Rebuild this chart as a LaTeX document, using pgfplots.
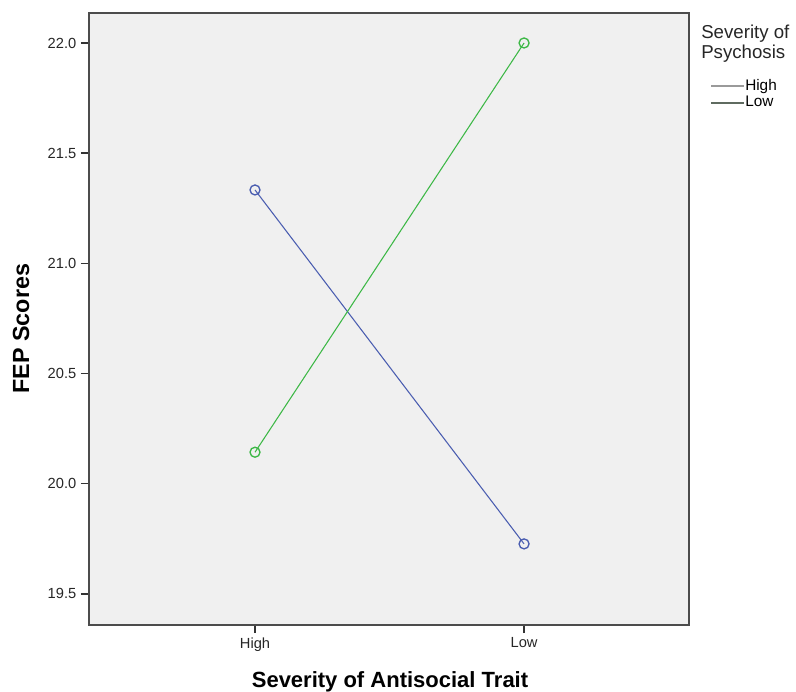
\documentclass[border=0pt]{standalone}
\usepackage{fontspec}
\setmainfont{Liberation Sans}
\usepackage{pgfplots}
\pgfplotsset{compat=1.18}
\definecolor{bgc}{HTML}{F0F0F0}
\definecolor{sblue}{HTML}{4A5DB0}
\definecolor{sgreen}{HTML}{3DB846}
\definecolor{leghigh}{HTML}{9A9A9A}
\definecolor{leglow}{HTML}{5F6B60}
\begin{document}
\begin{tikzpicture}
\useasboundingbox (0,0) rectangle (597pt,519pt);
\begin{axis}[
  at={(66.75pt,50.25pt)}, anchor=south west,
  scale only axis, width=450pt, height=459pt,
  xmin=-0.617, xmax=1.613, ymin=19.359, ymax=22.136,
  axis background/.style={fill=bgc},
  axis line style={draw=black!70, line width=1pt},
  xtick={0,1}, xticklabels={High,Low},
  ytick={19.5,20.0,20.5,21.0,21.5,22.0},
  yticklabel style={/pgf/number format/.cd, fixed, fixed zerofill, precision=1, /pgf/number format/assume math mode=true},
  tick pos=left, tick align=outside, major tick length=6pt,
  tick style={black!80, line width=1pt},
  ticklabel style={font=\fontsize{11pt}{13pt}\selectfont, text=black!85},
  xlabel={Severity of Antisocial Trait},
  ylabel={FEP Scores},
  label style={font=\fontsize{16.5pt}{19pt}\selectfont\bfseries},
  xlabel style={at={(axis description cs:0.5017,-0.1029)}, anchor=base},
  ylabel style={at={(axis description cs:-0.113,0.484)}, anchor=center, rotate=0, font=\fontsize{17.5pt}{20pt}\selectfont\bfseries},
  clip=false,
  legend style={at={(axis description cs:1.035,0.867)}, anchor=west, draw=none, fill=none,
    font=\fontsize{11.5pt}{12pt}\selectfont, inner sep=0pt, row sep=1.5pt,
    nodes={inner sep=0pt, text height=8.5pt, text depth=2.5pt}},
  legend cell align=left,
  legend image code/.code={\draw[#1] (0pt,0pt) -- (24.75pt,0pt);},
]
\addplot[sblue, line width=0.8pt, mark=o, mark size=3.75pt, mark options={line width=1pt}, forget plot]
  coordinates {(0,21.333) (1,19.727)};
\addplot[sgreen, line width=0.8pt, mark=o, mark size=3.75pt, mark options={line width=1pt}, forget plot]
  coordinates {(0,20.143) (1,22.0)};
\addlegendimage{color=leghigh, line width=1.5pt}
\addlegendentry{High}
\addlegendimage{color=leglow, line width=1.2pt}
\addlegendentry{Low}
\node[anchor=base west, font=\fontsize{14pt}{16pt}\selectfont, text=black!85, inner sep=0pt] at (axis description cs:1.02,0.959) {Severity of};
\node[anchor=base west, font=\fontsize{14pt}{16pt}\selectfont, text=black!85, inner sep=0pt] at (axis description cs:1.02,0.925) {Psychosis};
\end{axis}
\end{tikzpicture}
\end{document}
